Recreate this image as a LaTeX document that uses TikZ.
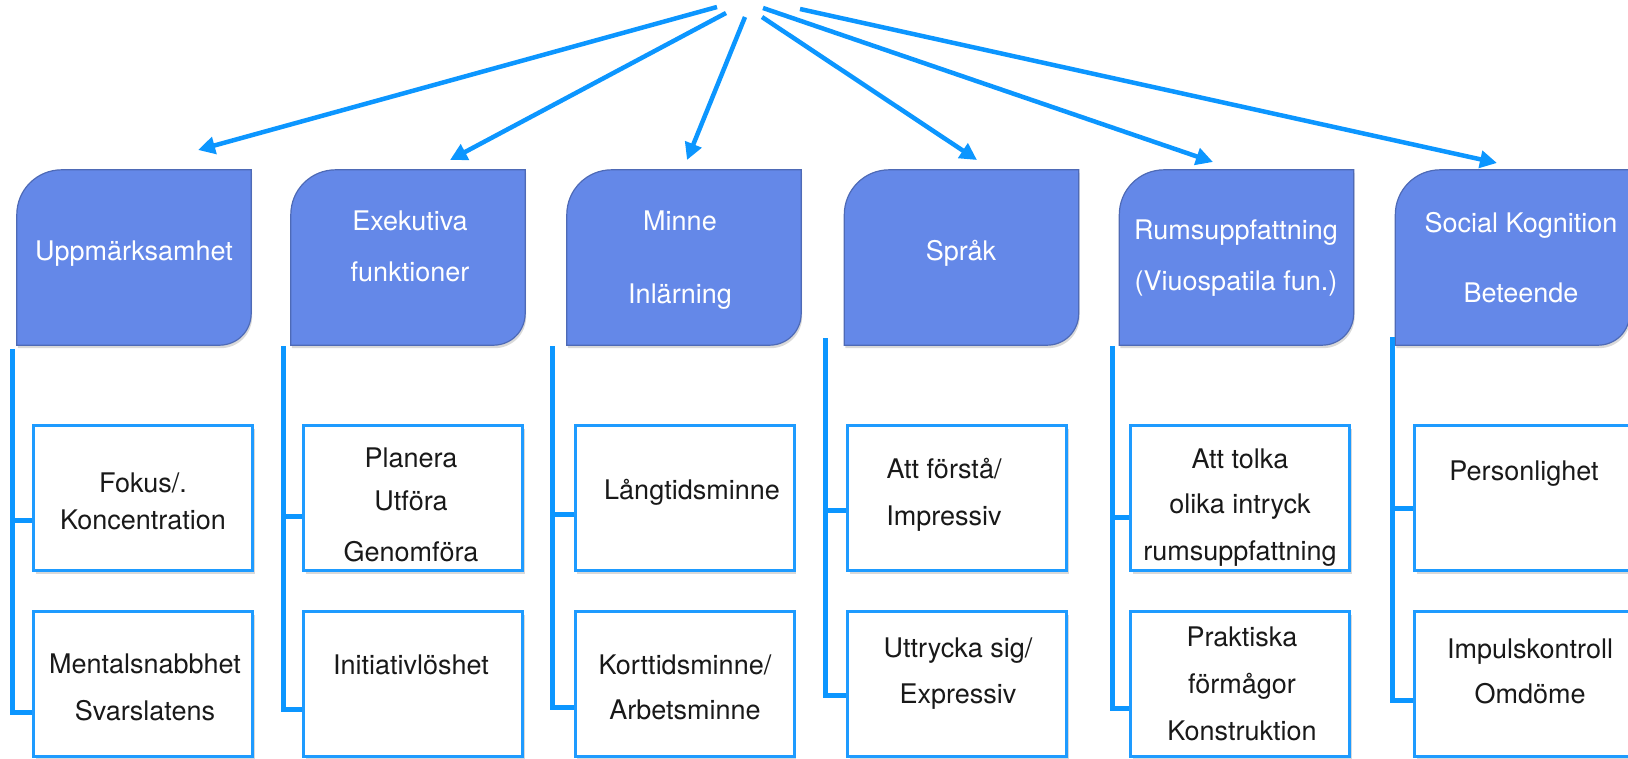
\documentclass[tikz,border=0pt]{standalone}
\usepackage{fontspec}
\setmainfont{TeX Gyre Heros}
\usetikzlibrary{shapes,arrows.meta,positioning,calc,shadows}

\definecolor{lineblue}{RGB}{12,150,255}
\definecolor{boxblue}{RGB}{30,155,255}
\definecolor{headblue}{RGB}{100,136,232}
\definecolor{headedge}{RGB}{78,106,182}

% header with two rounded corners (top left, bottom right)
\newcommand{\headshape}[1]{%
  \path[headbox] (#1.south west) -- ($(#1.north west)+(0,45)$)
    .. controls ($(#1.north west)+(0,20)$) and ($(#1.north west)+(20,0)$) .. ($(#1.north west)+(45,0)$)
    -- (#1.north east) -- ($(#1.south east)+(0,-32)$)
    .. controls ($(#1.south east)+(0,-14)$) and ($(#1.south east)+(-14,0)$) .. ($(#1.south east)+(-32,0)$)
    -- cycle;}

\begin{document}
\begin{tikzpicture}[x=1pt,y=-1pt,
    headnode/.style={rectangle,minimum width=234pt,minimum height=175pt,inner sep=0pt},
    headbox/.style={fill=headblue,draw=headedge,line width=1.2pt,
      drop shadow={opacity=.3,shadow xshift=1pt,shadow yshift=-3pt}},
    headtext/.style={anchor=base,text=white,align=center,font=\fontsize{27}{51}\selectfont},
    itembox/.style={rectangle,draw=boxblue,line width=3pt,fill=white,
      minimum width=219pt,minimum height=145pt,
      drop shadow={opacity=.3,shadow xshift=2pt,shadow yshift=-3pt}},
    itemtext/.style={anchor=base,text=black!90,align=center,font=\fontsize{27}{47}\selectfont},
    bracket/.style={draw=lineblue,line width=5pt},
    arrowline/.style={draw=lineblue,line width=4.5pt,-{Triangle[length=17pt,width=17pt]}}]
    \useasboundingbox (0,0) rectangle (1628,758);

    % arrows from the top
    \foreach \i/\sx/\sy/\ex/\ey in {1/717/7/198/150,2/726/13/450/160,3/745/17/687/160,
                                    4/762/17/977/160,5/763/8/1213/162,6/800/9/1497/163} {
        \coordinate (s\i) at (\sx,\sy);
        \coordinate (e\i) at (\ex,\ey);
        \draw[arrowline] (s\i) -- (e\i);
    }

    % headers
    \foreach \i/\x in {1/134,2/408,3/684,4/961.5,5/1236.5,6/1512.5} {
        \node[headnode] (h\i) at (\x,257.5) {};
        \headshape{h\i}
    }
    % base = last line
    \node[headtext] (h1t) at (134,260) {Uppmärksamhet};
    \node[headtext] (h2t) at (410,281) {Exekutiva\\funktioner};
    \node[headtext] (h3t) at (680,303) {Minne\\[22pt]Inlärning};
    \node[headtext] (h4t) at (961,260) {Språk};
    \node[headtext] (h5t) at (1236,290) {Rumsuppfattning\\(Viuospatila fun.)};
    \node[headtext] (h6t) at (1521,302) {Social Kognition\\[19pt]Beteende};

    % boxes below
    \foreach \i/\x in {1/143,2/413,3/684.5,4/957,5/1240,6/1524} {
        \node[itembox] (u\i) at (\x,498) {};
        \node[itembox] (l\i) at (\x,684) {};
    }
    \node[itemtext] (u1t) at (143,529) {Fokus/.\\[-10pt]Koncentration};
    \node[itemtext] (l1t) at (145,720) {Mentalsnabbhet\\Svarslatens};
    \node[itemtext] (u2t) at (411,561) {Planera\\[-4pt]Utföra\\[4pt]Genomföra};
    \node[itemtext] (l2t) at (411,674) {Initiativlöshet};
    \node[itemtext] (u3t) at (692,499) {Långtidsminne};
    \node[itemtext] (l3t) at (685,719) {Korttidsminne/\\[-2pt]Arbetsminne};
    \node[itemtext] (u4t) at (944,525) {Att förstå/\\Impressiv};
    \node[itemtext] (l4t) at (958,703) {Uttrycka sig/\\[-1pt]Expressiv};
    \node[itemtext] (u5t) at (1240,560) {Att tolka\\[-2pt]olika intryck\\rumsuppfattning};
    \node[itemtext] (l5t) at (1242,740) {Praktiska\\förmågor\\Konstruktion};
    \node[itemtext] (u6t) at (1524,480) {Personlighet};
    \node[itemtext] (l6t) at (1530,703) {Impulskontroll\\[-2pt]Omdöme};

    % brackets
    \foreach \i/\x/\t/\m/\b in {1/12.5/349/520/712,2/283/346/516/709,3/552/346/514/707,
                                4/825/338/510/695,5/1112/346/517/708,6/1392/337/508/700} {
        \coordinate (kt\i) at (\x,\t);
        \coordinate (km\i) at (\x,\m);
        \coordinate (kb\i) at (\x,\b);
        \draw[bracket] (kt\i) -- (kb\i) -- (kb\i -| l\i.west);
        \draw[bracket] (km\i) -- (km\i -| u\i.west);
    }

\end{tikzpicture}
\end{document}
